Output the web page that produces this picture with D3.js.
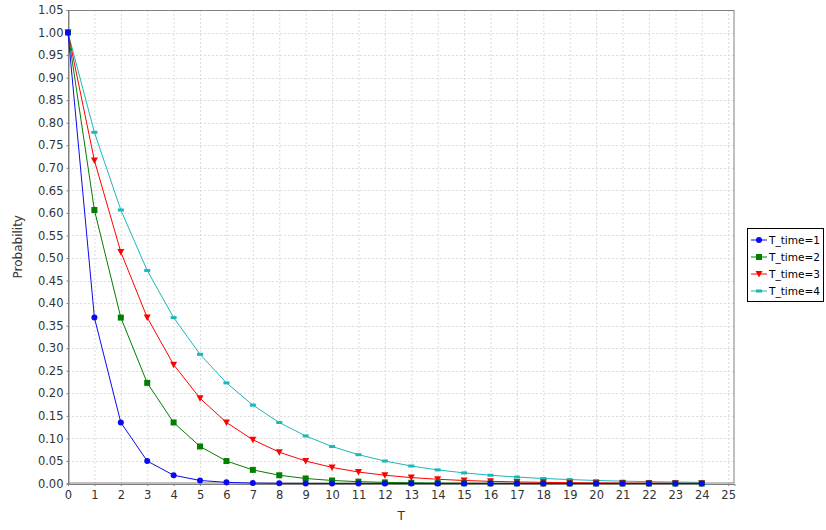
<!DOCTYPE html>
<html><head><meta charset="utf-8">
<script src="https://cdn.jsdelivr.net/npm/d3@7"></script>
<style>body{margin:0;background:#fff;} text{font-family:"DejaVu Sans",sans-serif;}</style>
</head><body><svg id="c" width="826" height="530"></svg>
<script>
const xValues = [0,1,2,3,4,5,6,7,8,9,10,11,12,13,14,15,16,17,18,19,20,21,22,23,24];
const seriesNames = ["T_time=1","T_time=2","T_time=3","T_time=4"];
const s1 = [1,0.3679,0.1353,0.0498,0.0183,0.0067,0.0025,0.0009,0.0003,0.0001,0,0,0,0,0,0,0,0,0,0,0,0,0,0,0];
const s2 = [1,0.6065,0.3679,0.2231,0.1353,0.0821,0.0498,0.0302,0.0183,0.0111,0.0067,0.0041,0.0025,0.0015,0.0009,0.0006,0.0003,0.0002,0.0001,0.0001,0,0,0,0,0];
const s3 = [1,0.7165,0.5134,0.3679,0.2636,0.1889,0.1353,0.0970,0.0695,0.0498,0.0357,0.0255,0.0183,0.0131,0.0094,0.0067,0.0048,0.0035,0.0025,0.0018,0.0013,0.0009,0.0006,0.0005,0.0003];
const s4 = [1,0.7788,0.6065,0.4724,0.3679,0.2865,0.2231,0.1738,0.1353,0.1054,0.0821,0.0639,0.0498,0.0388,0.0302,0.0235,0.0183,0.0143,0.0111,0.0087,0.0067,0.0052,0.0041,0.0032,0.0025];
const xTicks = d3.range(0,26);
const yTicks = d3.range(0,22).map(i=>i*0.05);
const colors = ["#0a0aee","#007f00","#ff0000","#1ab8b8"];
const shapes = ["circle","square","triangleDown","rect"];

const svg = d3.select("#c");
const L=68, R=734.5, T=10, B=483.5;
const x = d3.scaleLinear().domain([0,25.24]).range([L,R]);
const y = d3.scaleLinear().domain([0,1.05]).range([B,T]);

// grid
const g = svg.append("g");
g.selectAll(".vg").data(xTicks).enter().append("line")
 .attr("x1",d=>x(d)+0.5).attr("x2",d=>x(d)+0.5).attr("y1",T).attr("y2",B)
 .attr("stroke","#dcdcdc").attr("stroke-dasharray","2,2");
g.selectAll(".hg").data(yTicks).enter().append("line")
 .attr("y1",d=>Math.round(y(d))+0.5).attr("y2",d=>Math.round(y(d))+0.5).attr("x1",L).attr("x2",R)
 .attr("stroke","#dcdcdc").attr("stroke-dasharray","2,2");
// border
svg.append("rect").attr("x",L+0.5).attr("y",T+0.5).attr("width",R-L-1).attr("height",B-T-1)
 .attr("fill","none").attr("stroke","#808080");

// axes
const xAxis = d3.axisBottom(x).tickValues(xTicks).tickFormat(d3.format("d")).tickSize(2).tickPadding(3);
const yAxis = d3.axisLeft(y).tickValues(yTicks).tickFormat(d3.format(".2f")).tickSize(2).tickPadding(3);
const xa = svg.append("g").attr("transform",`translate(0,${B+0.5})`).call(xAxis);
const ya = svg.append("g").attr("transform",`translate(${L+0.5},0)`).call(yAxis);
[xa,ya].forEach(a=>{
  a.select(".domain").attr("stroke","#808080");
  a.selectAll(".tick line").attr("stroke","#808080");
  a.selectAll("text").attr("font-size","11.5px").attr("fill","#333").attr("font-family","DejaVu Sans");
});
xa.selectAll("text").attr("dy","0.9em");

svg.append("text").attr("x",(L+R)/2).attr("y",520).attr("text-anchor","middle")
 .attr("font-size","12px").attr("fill","#333").text("T");
svg.append("text").attr("transform",`translate(22,${(T+B)/2}) rotate(-90)`).attr("text-anchor","middle")
 .attr("font-size","12px").attr("fill","#333").text("Probability");

function marker(sel, shape, color){
  if(shape==="circle") sel.append("circle").attr("r",3).attr("fill",color);
  else if(shape==="square") sel.append("rect").attr("x",-3).attr("y",-3).attr("width",6).attr("height",6).attr("fill",color);
  else if(shape==="triangleDown") sel.append("path").attr("d","M-3.5,-3L3.5,-3L0,3.5Z").attr("fill",color);
  else sel.append("rect").attr("x",-3).attr("y",-1.5).attr("width",6).attr("height",3).attr("fill",color);
}

const all = [s1,s2,s3,s4];
const line = d3.line().x((d,i)=>x(xValues[i])).y(d=>y(d));
const plot = svg.append("g");
for(let k=all.length-1;k>=0;k--){
  plot.append("path").datum(all[k]).attr("d",line).attr("fill","none").attr("stroke",colors[k]).attr("stroke-width",1);
  all[k].forEach((v,i)=>{
    const m = plot.append("g").attr("transform",`translate(${x(xValues[i])},${y(v)})`);
    marker(m,shapes[k],colors[k]);
  });
}

// legend
const lg = svg.append("g");
lg.append("rect").attr("x",747.5).attr("y",228.5).attr("width",76).attr("height",73).attr("fill","#fff").attr("stroke","#000");
seriesNames.forEach((n,i)=>{
  const yy = 240 + i*17;
  lg.append("line").attr("x1",751).attr("x2",767).attr("y1",yy).attr("y2",yy).attr("stroke",colors[i]);
  const m = lg.append("g").attr("transform",`translate(759,${yy})`);
  marker(m,shapes[i],colors[i]);
  lg.append("text").attr("x",769).attr("y",yy+4).attr("font-size","10.5px").attr("fill","#000")
    .attr("textLength",51).attr("lengthAdjust","spacingAndGlyphs").text(n);
});
</script></body></html>
